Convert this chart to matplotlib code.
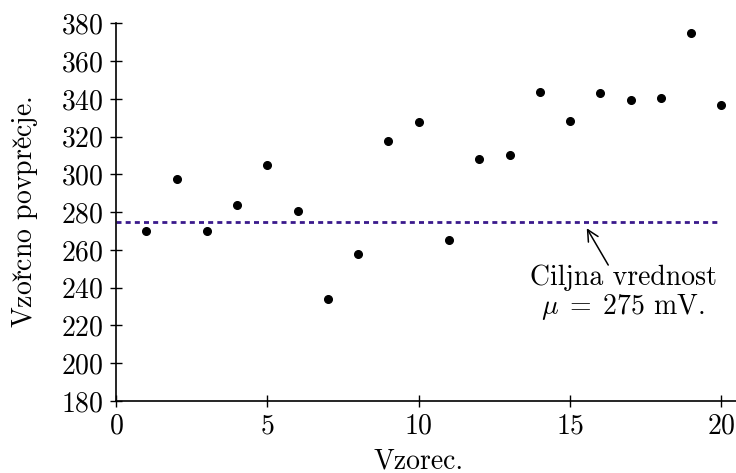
import matplotlib
matplotlib.use("Agg")
import matplotlib.pyplot as plt

# Sample means of the 20 samples (mV)
sample_no = [1, 2, 3, 4, 5, 6, 7, 8, 9, 10,
             11, 12, 13, 14, 15, 16, 17, 18, 19, 20]
sample_mean = [269.9, 297.4, 269.9, 283.6, 305.2, 280.6, 233.8, 257.7, 317.9, 327.7,
               265.1, 308.0, 310.3, 343.6, 328.5, 342.9, 339.2, 340.5, 375.1, 336.6]

target = 275
x_ticks = [0, 5, 10, 15, 20]
y_ticks = [180, 200, 220, 240, 260, 280, 300, 320, 340, 360, 380]

plt.rcParams["font.family"] = ["cmr10", "DejaVu Serif"]
plt.rcParams["mathtext.fontset"] = "cm"
plt.rcParams["axes.formatter.use_mathtext"] = True
plt.rcParams["font.size"] = 20

fig = plt.figure(figsize=(7.36, 4.73), dpi=100)
ax = fig.add_axes([0.1576, 0.1522, 0.8424, 0.7985])

# target value as a dashed line across the samples
ax.plot([0, 20], [target, target], linestyle=(0, (1.8, 1.5)), linewidth=2.0,
        color="#3a1a8c", zorder=2)
ax.plot(sample_no, sample_mean, "o", color="black", markersize=5.5, zorder=3)

ax.set_xlim(0, 20.48)
ax.set_ylim(180, 380)
ax.set_xticks(x_ticks)
ax.set_yticks(y_ticks)

for side in ["top", "right"]:
    ax.spines[side].set_visible(False)
for side in ["left", "bottom"]:
    ax.spines[side].set_linewidth(1.2)
ax.tick_params(direction="inout", length=8, width=1.0, pad=5)

ax.set_xlabel("Vzorec.")
ax.xaxis.set_label_coords(10 / 20.48, -0.125)
ax.set_ylabel(r"Vzor$\check{\mathrm{c}}$no povpre$\check{\mathrm{c}}$je.")
ax.yaxis.set_label_coords(-0.122, 0.5)

ax.annotate("", xy=(15.55, 271.5), xytext=(16.26, 252.0),
            arrowprops=dict(arrowstyle="->,head_length=0.4,head_width=0.2",
                            color="black", linewidth=1.1, shrinkA=0, shrinkB=0))
ax.text(16.75, 237.0, "Ciljna vrednost\n" + r"$\mu\;=\;275$ mV.",
        ha="center", va="center", multialignment="center", linespacing=1.05)

fig.savefig("out.png", dpi=100)
